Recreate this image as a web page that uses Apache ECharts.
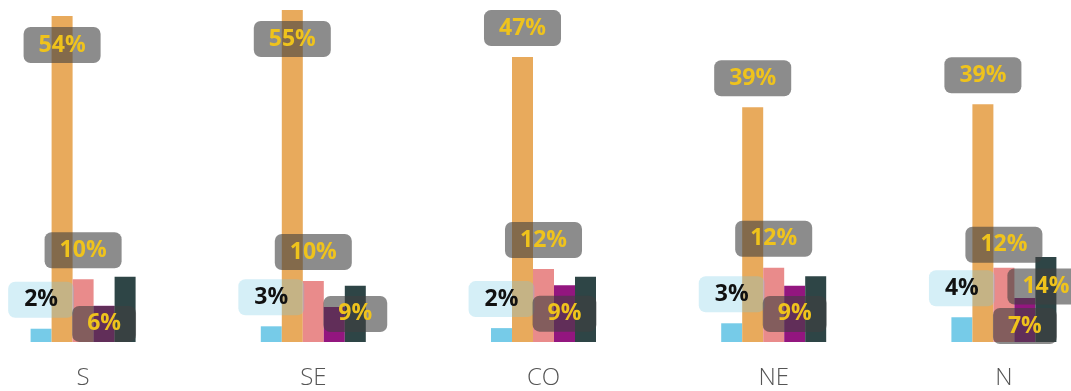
<!DOCTYPE html>
<html>
<head>
<meta charset="utf-8">
<script src="https://cdn.jsdelivr.net/npm/echarts@6/dist/echarts.min.js"></script>
<style>
html,body{margin:0;padding:0;background:#fff;overflow:hidden;width:1071px;height:391px;}
#c{width:1151px;height:391px;margin-left:-32px;}
</style>
</head>
<body>
<div id="c"></div>
<script>
const categories = ['S', 'SE', 'CO', 'NE', 'N'];
const lightBlue = [2.2, 2.6, 2.3, 3.1, 4.1];
const orange = [54, 55, 47.2, 38.9, 39.4];
const pink = [10.4, 10.1, 12.1, 12.3, 12.3];
const purple = [6, 5.8, 9.4, 9.3, 7.3];
const dark = [10.8, 9.3, 10.8, 10.9, 14.1];
const purpleLabelShown = [true, false, true, true, true];
const darkLabelShown = [false, true, false, false, true];

const FONT = '"Open Sans", "Noto Sans", sans-serif';
const pct = p => Math.round(p.value) + '%';
const grayBox = {
  show: true,
  formatter: pct,
  color: '#efc31c',
  fontFamily: FONT,
  fontWeight: 'bold',
  fontSize: 23,
  lineHeight: 24,
  backgroundColor: 'rgba(64,64,64,0.6)',
  borderRadius: 7,
  padding: [6, 15]
};

function mk(values, fn) { return values.map((v, i) => Object.assign({ value: v }, fn(v, i))); }

const chart = echarts.init(document.getElementById('c'), null, { renderer: 'canvas' });
chart.setOption({
  animation: false,
  backgroundColor: '#ffffff',
  grid: { left: 0, right: 0, top: 4, bottom: 49, containLabel: false },
  xAxis: {
    type: 'category',
    data: categories,
    axisLine: { show: false },
    axisTick: { show: false },
    axisLabel: { color: '#555', fontSize: 24, fontWeight: 300, fontFamily: FONT, margin: 24 }
  },
  yAxis: { type: 'value', min: 0, max: 56, show: false, splitLine: { show: false } },
  series: [
    {
      name: 'a', type: 'bar', barWidth: 21, barGap: '0%',
      itemStyle: { color: '#76cbe8' },
      label: Object.assign({}, grayBox, {
        position: 'top', distance: 11, color: '#111',
        backgroundColor: 'rgba(116,201,230,0.3)', padding: [6, 16]
      }),
      data: lightBlue
    },
    {
      name: 'b', type: 'bar', barWidth: 21, barGap: '0%',
      itemStyle: { color: '#e8aa5c' },
      data: mk(orange, v => ({
        label: Object.assign({}, grayBox, v > 49 ? { position: 'insideTop', distance: 11 } : { position: 'top', distance: 11 })
      }))
    },
    {
      name: 'c', type: 'bar', barWidth: 21, barGap: '0%',
      itemStyle: { color: '#e98b8b' },
      data: mk(pink, (v, i) => ({
        label: Object.assign({}, grayBox, { position: 'top', distance: i === 4 ? 5 : 11 })
      }))
    },
    {
      name: 'd', type: 'bar', barWidth: 21, barGap: '0%',
      itemStyle: { color: '#93167f' },
      data: mk(purple, (v, i) => ({
        label: Object.assign({}, grayBox, { position: 'inside', show: purpleLabelShown[i], offset: i === 4 ? [0, 6] : [0, 0] })
      }))
    },
    {
      name: 'e', type: 'bar', barWidth: 21, barGap: '0%',
      itemStyle: { color: '#2e4546' },
      data: mk(dark, (v, i) => ({
        label: Object.assign({}, grayBox, { position: 'inside', show: darkLabelShown[i], offset: i === 4 ? [0, -13] : [0, 0] })
      }))
    }
  ]
});
</script>
</body>
</html>
